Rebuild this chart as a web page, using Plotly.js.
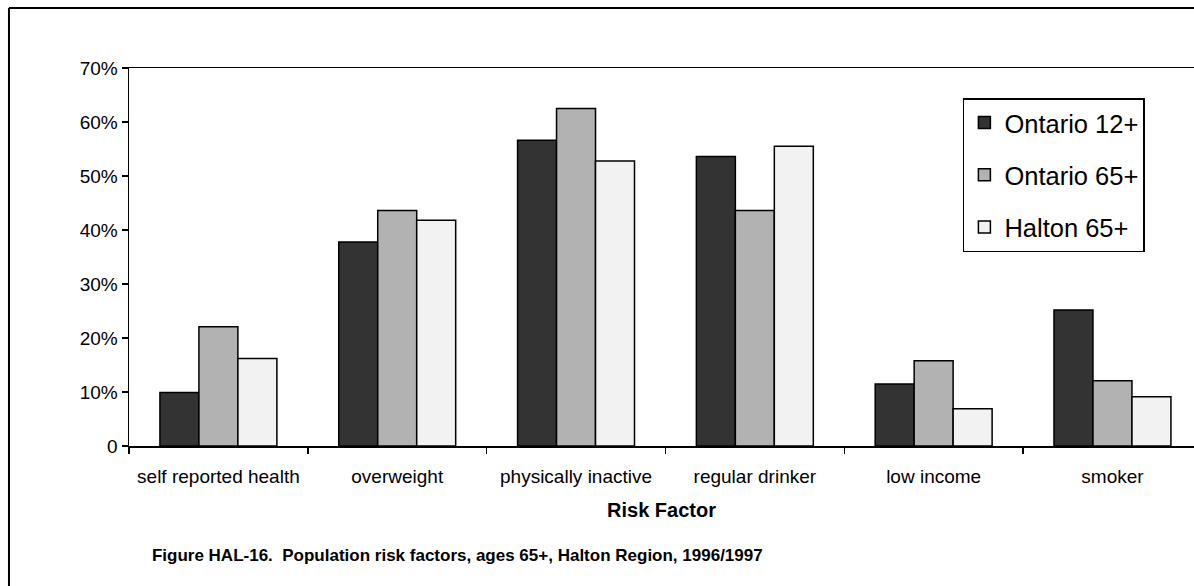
<!DOCTYPE html>
<html>
<head>
<meta charset="utf-8">
<script src="https://cdn.plot.ly/plotly-3.0.1.min.js"></script>
<style>html,body{margin:0;padding:0;background:#fff;}#chart{width:1194px;height:586px;}</style>
</head>
<body>
<div id="chart"></div>
<script>
const categories = ["self reported health", "overweight", "physically inactive", "regular drinker", "low income", "smoker"];
const seriesNames = ["Ontario 12+", "Ontario 65+", "Halton 65+"];
const ontario12 = [0.099, 0.378, 0.566, 0.536, 0.115, 0.252];
const ontario65 = [0.221, 0.436, 0.625, 0.436, 0.158, 0.121];
const halton65  = [0.162, 0.418, 0.528, 0.555, 0.069, 0.091];
const yTickVals = [0, 0.1, 0.2, 0.3, 0.4, 0.5, 0.6, 0.7];
const yTickText = ["0", "10%", "20%", "30%", "40%", "50%", "60%", "70%"];
const colors = ["#333333", "#b2b2b2", "#f2f2f2"];

const FONT = "Arial, 'Liberation Sans', sans-serif";
const values = [ontario12, ontario65, halton65];
const traces = values.map((v, i) => ({
  type: "bar",
  x: categories,
  y: v,
  name: seriesNames[i],
  legendgroup: "g" + i,
  marker: { color: colors[i], line: { color: "#000", width: 1.5 } },
  hoverinfo: "x+y+name"
}));

const layout = {
  width: 1194, height: 586,
  margin: { l: 129, r: 0, t: 68, b: 140 },
  paper_bgcolor: "#fff", plot_bgcolor: "#fff",
  font: { family: FONT, color: "#000", size: 19 },
  barmode: "group", bargap: 0.346, bargroupgap: 0,
  title: {
    text: "<b>Figure HAL-16.  Population risk factors, ages 65+, Halton Region, 1996/1997</b>",
    font: { family: FONT, size: 17, color: "#000" },
    x: 0.383, xref: "container", xanchor: "center",
    y: 0.053, yref: "container", yanchor: "middle"
  },
  xaxis: {
    type: "category",
    range: [-0.5, 5.456],
    showline: true, linecolor: "#000", linewidth: 1.5, mirror: true,
    ticks: "outside", ticklen: 6, tickcolor: "#000", tickwidth: 1.5,
    tickson: "boundaries",
    ticklabelstandoff: 13,
    showgrid: false, zeroline: false,
    tickfont: { family: FONT, size: 19, color: "#000" },
    title: { text: "<b>Risk Factor</b>", font: { family: FONT, size: 20, color: "#000" }, standoff: 16 }
  },
  yaxis: {
    range: [0, 0.7],
    tickvals: yTickVals, ticktext: yTickText,
    showline: true, linecolor: "#000", linewidth: 1.5,
    ticks: "outside", ticklen: 6, tickcolor: "#000", tickwidth: 1.5,
    showgrid: false, zeroline: false,
    tickfont: { family: FONT, size: 19, color: "#000" }
  },
  legend: {
    x: 0.783, xanchor: "left", y: 0.9206, yanchor: "top",
    bgcolor: "#fff", bordercolor: "#000", borderwidth: 1.5,
    font: { family: FONT, size: 25.5, color: "#000" },
    tracegroupgap: 16,
    itemwidth: 30
  },
  shapes: [
    { type: "line", xref: "paper", yref: "paper", x0: -0.1127, x1: 1.2, y0: 1.1587, y1: 1.1587, line: { color: "#000", width: 2 } },
    { type: "line", xref: "paper", yref: "paper", x0: -0.1127, x1: -0.1127, y0: 1.1587, y1: -0.6, line: { color: "#000", width: 2 } }
  ]
};

Plotly.newPlot("chart", traces, layout, { displayModeBar: false, staticPlot: true });
</script>
</body>
</html>
